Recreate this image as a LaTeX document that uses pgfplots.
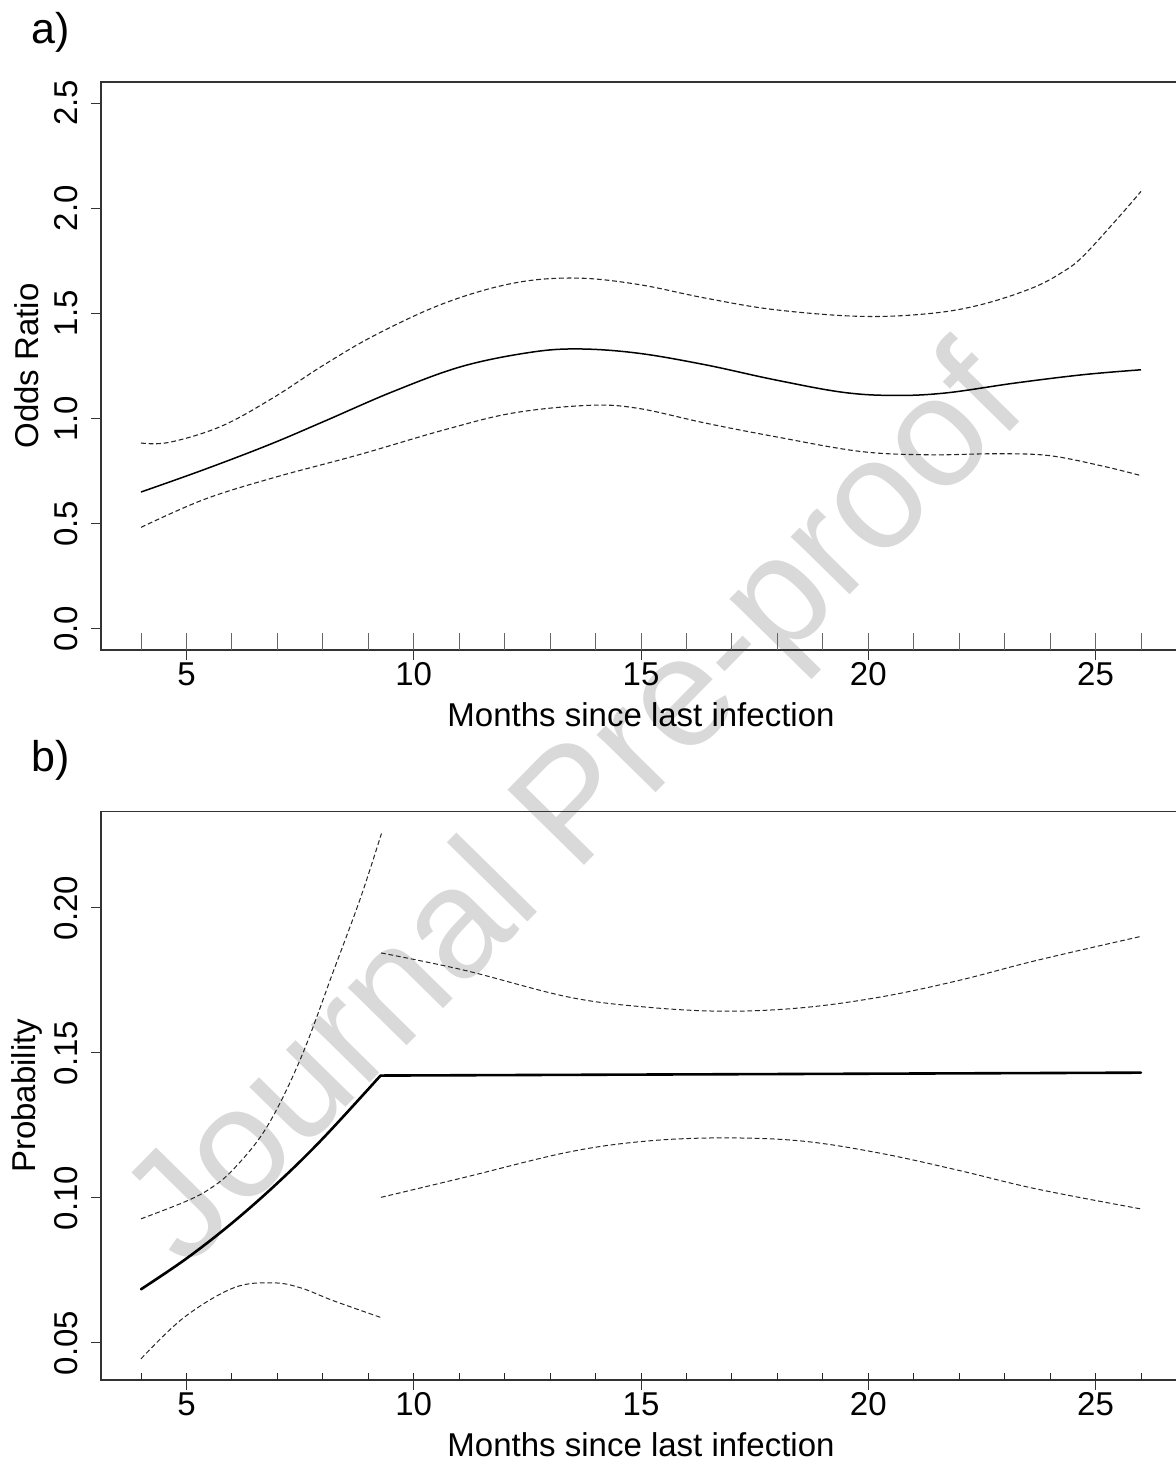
\documentclass[border=0pt]{standalone}
\usepackage{pgfplots}
\pgfplotsset{compat=1.18}
\usepackage{fontspec}
\setmainfont{Liberation Sans}

\pgfplotstableread{
x y
4.00 0.651
5.38 0.757
6.82 0.876
8.03 0.987
9.55 1.129
11.06 1.248
12.57 1.315
13.64 1.331
14.93 1.311
16.41 1.256
17.93 1.185
19.44 1.125
20.58 1.110
21.71 1.122
23.23 1.169
24.74 1.209
26.00 1.232
}\Amid
\pgfplotstableread{
x y
4.00 0.884
4.62 0.887
5.76 0.963
6.90 1.098
8.03 1.256
9.17 1.399
10.68 1.549
12.20 1.644
13.56 1.668
14.93 1.638
16.41 1.573
17.93 1.518
19.82 1.486
21.33 1.499
22.47 1.541
23.61 1.621
24.30 1.700
24.74 1.775
25.50 1.955
26.00 2.080
}\Aup
\pgfplotstableread{
x y
4.00 0.483
5.38 0.615
6.90 0.718
8.79 0.828
10.68 0.947
12.20 1.027
13.86 1.063
14.93 1.049
16.41 0.979
17.93 0.915
19.82 0.844
21.33 0.828
22.85 0.833
23.98 0.824
25.12 0.776
26.00 0.729
}\Alow

\pgfplotstableread{
x y
4.00 0.0685
5.00 0.0791
6.00 0.0913
7.00 0.1051
8.00 0.1205
9.27 0.1422
}\Bmidone
\pgfplotstableread{
x y
9.27 0.1422
26.00 0.1432
}\Bmidtwo
\pgfplotstableread{
x y
4.00 0.0928
4.94 0.0985
5.50 0.1030
6.04 0.1100
6.77 0.1245
7.51 0.1480
8.24 0.1785
8.83 0.2035
9.29 0.2257
}\Bupone
\pgfplotstableread{
x y
4.00 0.0445
4.94 0.0587
6.04 0.0690
6.90 0.0707
7.51 0.0690
8.24 0.0645
9.29 0.0587
}\Blowone
\pgfplotstableread{
x y
9.28 0.1845
11.12 0.1785
13.40 0.1693
15.12 0.1658
16.84 0.1644
18.55 0.1656
20.27 0.1693
21.99 0.1750
23.70 0.1819
26.00 0.1902
}\Buptwo
\pgfplotstableread{
x y
9.28 0.1002
11.12 0.1071
13.40 0.1158
15.12 0.1196
16.84 0.1207
18.55 0.1196
20.27 0.1154
21.99 0.1095
23.70 0.1031
26.00 0.0962
}\Blowtwo

\pgfplotsset{
  common/.style={
    scale only axis, width=540pt,
    xmin=3.12, xmax=26.88,
    axis line style={black!80, line width=0.6pt},
    tick style={black!80, line width=0.5pt},
    tick align=outside, tick pos=left,
    major tick length=5pt,
    xtick={5,10,15,20,25},
    xticklabels={5,10,15,20,25},
    extra x ticks={4,5,...,26},
    extra x tick labels={},
    /pgf/number format/assume math mode=true,
    every tick label/.append style={font=\fontsize{16.5}{19}\selectfont},
    label style={font=\fontsize{16.5}{19}\selectfont},
    xticklabel style={anchor=north, inner sep=0pt},
    yticklabel style={rotate=90, anchor=south, inner sep=0pt},
    xticklabel shift=1.25pt, yticklabel shift=6.5pt,
    xlabel style={at={(axis description cs:0.5,-0.1144)}, anchor=center},
    ylabel style={at={(axis description cs:-0.0685,0.5)}, anchor=center},
    xlabel={Months since last infection},
  },
  dashline/.style={black!85, line width=0.55pt, dash pattern=on 2.4pt off 1.4pt, smooth, tension=0.6},
}

\begin{document}
\begin{tikzpicture}
\node[text=black!15, font=\fontsize{78}{78}\selectfont, rotate=45.5] at (290pt,-406pt) {Journal Pre-proof};

\node[font=\fontsize{21.5}{24}\selectfont, anchor=center] at (25.5pt,-16.3pt) {a)};
\node[font=\fontsize{21.5}{24}\selectfont, anchor=center] at (25.5pt,-380pt) {b)};

\begin{axis}[common,
  at={(50.5pt,-41pt)}, anchor=north west, height=284pt,
  ymin=-0.1, ymax=2.6,
  ytick={0,0.5,1,1.5,2,2.5},
  yticklabels={0.0,0.5,1.0,1.5,2.0,2.5},
  extra x tick style={tick align=inside, major tick length=8.5pt, tick style={black!60, line width=0.5pt}},
  ylabel={Odds Ratio},
]
\addplot[black, line width=0.75pt, smooth, tension=0.6] table[x=x,y=y] {\Amid};
\addplot[dashline] table[x=x,y=y] {\Aup};
\addplot[dashline] table[x=x,y=y] {\Alow};
\end{axis}

\begin{axis}[common,
  at={(50.5pt,-405.85pt)}, anchor=north west, height=284.15pt,
  ymin=0.0372, ymax=0.2332,
  ytick={0.05,0.10,0.15,0.20},
  yticklabels={0.05,0.10,0.15,0.20},
  extra x tick style={tick align=inside, major tick length=3.75pt, tick style={black!85, line width=0.5pt}},
  ylabel={Probability},
]
\addplot[black, line width=1.3pt, smooth, tension=0.6, line cap=round] table[x=x,y=y] {\Bmidone};
\addplot[black, line width=1.3pt, line cap=round] table[x=x,y=y] {\Bmidtwo};
\addplot[dashline, line width=0.5pt] table[x=x,y=y] {\Bupone};
\addplot[dashline, line width=0.5pt] table[x=x,y=y] {\Blowone};
\addplot[dashline, line width=0.5pt] table[x=x,y=y] {\Buptwo};
\addplot[dashline, line width=0.5pt] table[x=x,y=y] {\Blowtwo};
\end{axis}

\pgfresetboundingbox
\path[use as bounding box] (0,0) rectangle (588pt,-730pt);
\end{tikzpicture}
\end{document}
